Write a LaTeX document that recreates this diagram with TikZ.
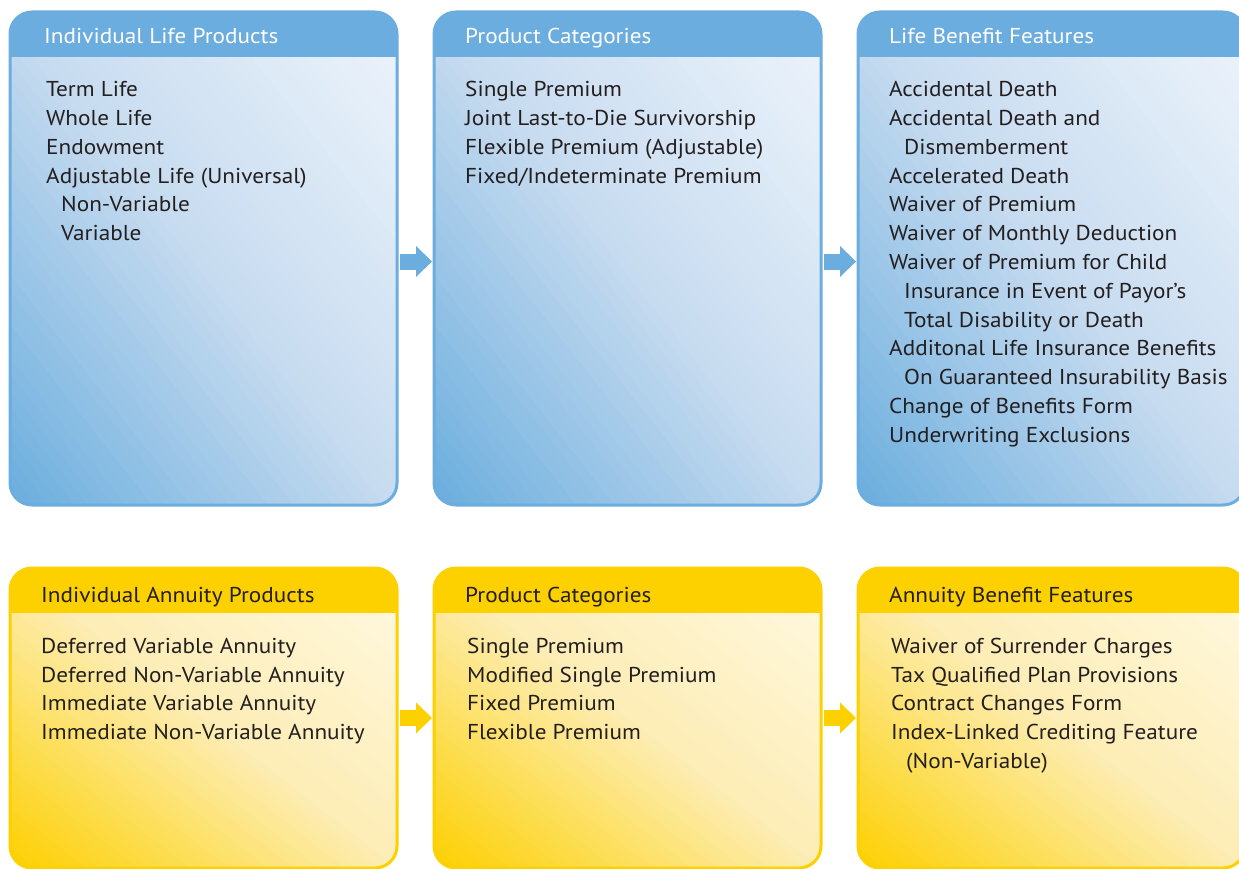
\documentclass[tikz,border=0pt]{standalone}
\usepackage{fontspec}
\setmainfont{PT Sans}[FakeStretch=1.08]
\usepackage{tikz}
\usetikzlibrary{positioning}
\usetikzlibrary{arrows.meta}
\definecolor{lifeblue}{HTML}{6AADDE}
\definecolor{lifemid}{HTML}{C8DCF0}
\definecolor{lifepale}{HTML}{EEF5FC}
\definecolor{annugold}{HTML}{FDD000}
\definecolor{annumid}{HTML}{FDEDB5}
\definecolor{annupale}{HTML}{FFF9E3}
\definecolor{inkgray}{HTML}{231F20}
\newcommand{\Zeilen}[1]{\begin{tabular}[t]{@{}l@{}}#1\end{tabular}}
\tikzset{
  Kasten/.style n args={4}{rectangle, rounded corners=22pt, draw=#1, line width=3pt,
    outer sep=0pt, inner sep=0pt, minimum width=387pt, minimum height=#4pt,
    path picture={
      % Verlauf von links unten nach rechts oben, in Streifen
      \foreach \i in {0,...,59}{
        \pgfmathtruncatemacro{\qa}{min(1,(\i+0.5)/30)*100}
        \pgfmathtruncatemacro{\qb}{max(0,(\i+0.5)/30-1)*100}
        \pgfmathsetmacro{\xa}{\i/30*387}
        \pgfmathsetmacro{\xb}{(\i+1.05)/30*387}
        \colorlet{StreifenA}{#2!\qa!#1}
        \colorlet{StreifenB}{#3!\qb!StreifenA}
        \fill[StreifenB, sharp corners] ([xshift=\xa pt]path picture bounding box.south west)
          -- ([xshift=\xb pt]path picture bounding box.south west)
          -- ([xshift=\xb pt-387pt, yshift=#4pt]path picture bounding box.south west)
          -- ([xshift=\xa pt-387pt, yshift=#4pt]path picture bounding box.south west) -- cycle;
      }
      \fill[#1, sharp corners] (path picture bounding box.north west)
      rectangle ([yshift=-45pt]path picture bounding box.north east);}}, % Kasten mit Kopfleiste
  Kopf/.style={anchor=base west, inner sep=0pt, text=#1, font=\fontsize{21.5}{26}\selectfont},
  Liste/.style={anchor=base west, inner sep=0pt, text=inkgray,
    font=\fontsize{21.5}{28.8}\selectfont},
  Pfeil/.style={draw=#1, line width=16pt, shorten <=3pt, shorten >=2pt,
    -{Triangle[length=16pt, width=31pt, line width=0pt]}} % Blockpfeil
}
\begin{document}
\begin{tikzpicture}[x=1pt, y=-1pt]
\useasboundingbox (0,0) rectangle (1239,869);
\clip (0,0) rectangle (1239,869);

%Kaesten Leben
\node[Kasten={lifeblue}{lifemid}{lifepale}{493}, anchor=north west] (lifeProd) at (10,12) {};
\node[Kasten={lifeblue}{lifemid}{lifepale}{493}, right=37pt of lifeProd] (lifeCat) {};
\node[Kasten={lifeblue}{lifemid}{lifepale}{493}, right=37pt of lifeCat] (lifeFeat) {};

%Kaesten Renten
\node[Kasten={annugold}{annumid}{annupale}{300}, below=63pt of lifeProd] (annuProd) {};
\node[Kasten={annugold}{annumid}{annupale}{300}, right=37pt of annuProd] (annuCat) {};
\node[Kasten={annugold}{annumid}{annupale}{300}, right=37pt of annuCat] (annuFeat) {};

%Kopfzeilen
\node[Kopf=white] (lifeProdHead) at ([xshift=34pt, yshift=-31.3pt]lifeProd.north west) {Individual Life Products};
\node[Kopf=white] (lifeCatHead) at ([xshift=31pt, yshift=-31.3pt]lifeCat.north west) {Product Categories};
\node[Kopf=white] (lifeFeatHead) at ([xshift=31pt, yshift=-31.3pt]lifeFeat.north west) {Life Benefit Features};
\node[Kopf=inkgray] (annuProdHead) at ([xshift=31pt, yshift=-34.3pt]annuProd.north west) {Individual Annuity Products};
\node[Kopf=inkgray] (annuCatHead) at ([xshift=31pt, yshift=-34.3pt]annuCat.north west) {Product Categories};
\node[Kopf=inkgray] (annuFeatHead) at ([xshift=31pt, yshift=-34.3pt]annuFeat.north west) {Annuity Benefit Features};

%Listen
\node[Liste] (lifeProdList) at ([xshift=36pt, yshift=-84.7pt]lifeProd.north west)
  {\Zeilen{Term Life\\ Whole Life\\ Endowment\\ Adjustable Life (Universal)\\
   \hspace*{15pt}Non-Variable\\ \hspace*{15pt}Variable}};
\node[Liste] (lifeCatList) at ([xshift=31pt, yshift=-84.7pt]lifeCat.north west)
  {\Zeilen{Single Premium\\ Joint Last-to-Die Survivorship\\ Flexible Premium (Adjustable)\\
   Fixed/Indeterminate Premium}};
\node[Liste] (lifeFeatList) at ([xshift=31pt, yshift=-84.7pt]lifeFeat.north west)
  {\Zeilen{Accidental Death\\ Accidental Death and\\ \hspace*{15pt}Dismemberment\\
   Accelerated Death\\ Waiver of Premium\\ Waiver of Monthly Deduction\\
   Waiver of Premium for Child\\ \hspace*{15pt}Insurance in Event of Payor’s\\
   \hspace*{15pt}Total Disability or Death\\ Additonal Life Insurance Benefits\\
   \hspace*{15pt}On Guaranteed Insurability Basis\\ Change of Benefits Form\\
   Underwriting Exclusions}};
\node[Liste] (annuProdList) at ([xshift=31pt, yshift=-85.3pt]annuProd.north west)
  {\Zeilen{Deferred Variable Annuity\\ Deferred Non-Variable Annuity\\
   Immediate Variable Annuity\\ Immediate Non-Variable Annuity}};
\node[Liste] (annuCatList) at ([xshift=33pt, yshift=-85.3pt]annuCat.north west)
  {\Zeilen{Single Premium\\ Modified Single Premium\\ Fixed Premium\\ Flexible Premium}};
\node[Liste] (annuFeatList) at ([xshift=33pt, yshift=-85.3pt]annuFeat.north west)
  {\Zeilen{Waiver of Surrender Charges\\ Tax Qualified Plan Provisions\\
   Contract Changes Form\\ Index-Linked Crediting Feature\\
   \hspace*{15pt}(Non-Variable)}};

%Pfeile
\draw[Pfeil=lifeblue] ([yshift=-3pt]lifeProd.east) -- ([yshift=-3pt]lifeCat.west);
\draw[Pfeil=lifeblue] ([yshift=-3pt]lifeCat.east) -- ([yshift=-3pt]lifeFeat.west);
\draw[Pfeil=annugold] (annuProd.east) -- (annuCat.west);
\draw[Pfeil=annugold] (annuCat.east) -- (annuFeat.west);
\end{tikzpicture}
\end{document}
